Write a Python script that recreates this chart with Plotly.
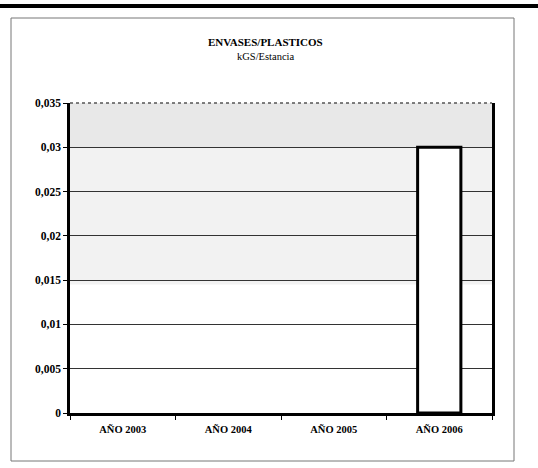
import plotly.graph_objects as go

categories = ["AÑO 2003", "AÑO 2004", "AÑO 2005", "AÑO 2006"]
values = [0, 0, 0, 0.03]
y_ticks = [0, 0.005, 0.01, 0.015, 0.02, 0.025, 0.03, 0.035]
y_tick_labels = ["0", "0,005", "0,01", "0,015", "0,02", "0,025", "0,03", "0,035"]
title_text = "<b>ENVASES/PLASTICOS</b>"
subtitle_text = "kGS/Estancia"

W, H = 538, 468
L, R, T, B = 70, 46, 103, 55

fig = go.Figure()
fig.add_trace(go.Bar(
    x=categories, y=values,
    marker=dict(color="white", line=dict(color="black", width=[0 if v == 0 else 3 for v in values])),
    width=0.41,
))

font_family = "Liberation Serif"

def px_x(px):
    return (px - L) / (W - L - R)

def px_y(py):
    return (H - B - py) / (H - T - B)

shapes = [
    # stippled background bands (scan texture)
    dict(type="rect", xref="x domain", yref="y", x0=0, x1=1, y0=0.03, y1=0.035,
         fillcolor="#e8e8e8", line=dict(width=0), layer="below"),
    dict(type="rect", xref="x domain", yref="y", x0=0, x1=1, y0=0.0145, y1=0.03,
         fillcolor="#f2f2f2", line=dict(width=0), layer="below"),
    # top heavy rule
    dict(type="rect", xref="paper", yref="paper", x0=px_x(0), x1=px_x(W), y0=px_y(8), y1=px_y(4),
         fillcolor="black", line=dict(width=0)),
    # outer thin frame
    dict(type="rect", xref="paper", yref="paper", x0=px_x(11), x1=px_x(514), y0=px_y(461), y1=px_y(18),
         fillcolor="rgba(0,0,0,0)", line=dict(color="#777", width=1)),
    # top plot edge
    dict(type="line", xref="x domain", yref="y domain", x0=0, x1=1, y0=1, y1=1,
         line=dict(color="#555", width=1.5, dash="dot")),
]

fig.update_layout(
    width=W, height=H,
    margin=dict(l=L, r=R, t=T, b=B),
    paper_bgcolor="white", plot_bgcolor="white",
    showlegend=False,
    separators=",.",
    font=dict(family=font_family, color="black", size=10),
    shapes=shapes,
    annotations=[
        dict(text=title_text, xref="paper", yref="paper", x=px_x(265), y=px_y(42),
             showarrow=False, font=dict(size=11, family=font_family), xanchor="center", yanchor="middle"),
        dict(text=subtitle_text, xref="paper", yref="paper", x=px_x(265), y=px_y(57),
             showarrow=False, font=dict(size=10.5, family=font_family), xanchor="center", yanchor="middle"),
    ],
)

fig.update_xaxes(
    type="category",
    range=[-0.5, 3.5],
    tickson="boundaries",
    ticks="outside", ticklen=4, tickcolor="black", tickwidth=1,
    showline=True, linecolor="black", linewidth=2.5,
    showgrid=False,
    tickvals=categories, ticktext=["<b>%s</b>" % c for c in categories],
    tickfont=dict(size=10.5, family=font_family),
    ticklabelstandoff=5,
)
fig.update_yaxes(
    range=[0, 0.035],
    tickvals=y_ticks, ticktext=["<b>%s</b>" % t for t in y_tick_labels],
    ticks="outside", ticklen=4, tickcolor="black", tickwidth=1,
    showline=True, mirror=True, linecolor="black", linewidth=2.5,
    showgrid=True, gridcolor="#333", gridwidth=1,
    zeroline=False,
    tickfont=dict(size=11.5, family=font_family),
)

fig.write_html("out.html", config={"displayModeBar": False},
               post_script="document.body.style.margin='0';")
